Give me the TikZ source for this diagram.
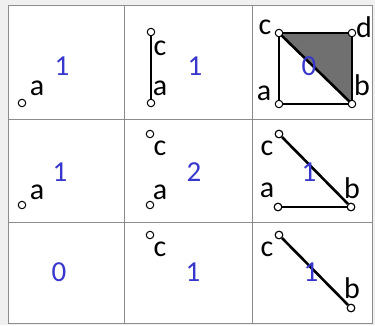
\documentclass[tikz,border=0pt]{standalone}
\usepackage{fontspec}
\setmainfont{Carlito}
\definecolor{numblue}{RGB}{55,55,205}
\definecolor{gridgray}{RGB}{140,140,140}
\definecolor{bggray}{RGB}{240,240,240}
\definecolor{trishade}{RGB}{112,112,112}
\begin{document}
\begin{tikzpicture}[x=1pt,y=-1pt,
  vtx/.style={circle,draw=black,fill=white,line width=1pt,inner sep=0pt,minimum size=7.5pt},
  lbl/.style={inner sep=0pt,font=\fontsize{30}{30}\selectfont},
  num/.style={inner sep=0pt,text=numblue,font=\fontsize{29}{29}\selectfont},
  edge/.style={line width=2.6pt,black},
  gridline/.style={draw=gridgray,line width=1pt}]
\fill[bggray] (0,0) rectangle (375,325);
\useasboundingbox (0,0) rectangle (375,325);
\fill[white] (8,5) rectangle (372,323);
% grid
\draw[gridline] (8,5) rectangle (372,323);
\draw[gridline] (124,5) -- (124,323);
\draw[gridline] (252,5) -- (252,323);
\draw[gridline] (8,119) -- (372,119);
\draw[gridline] (8,222) -- (372,222);

% ---------- Row 1 ----------
\node[vtx] (r1a) at (22,103) {};
\node[lbl] at (37,88) {a};
\node[num] at (62,66) {1};

\node[vtx] (r2c) at (151,32) {};
\node[vtx] (r2a) at (151,103) {};
\draw[edge] (r2c) -- (r2a);
\node[lbl] at (160,48) {c};
\node[lbl] at (160,88) {a};
\node[num] at (195,66) {1};

\coordinate (q3c) at (279,33);
\coordinate (q3d) at (352,33);
\coordinate (q3a) at (279,104);
\coordinate (q3b) at (352,104);
\fill[trishade] (q3c) -- (q3d) -- (q3b) -- cycle;
\draw[edge] (q3c) -- (q3d) -- (q3b) -- (q3a) -- cycle;
\draw[edge] (q3c) -- (q3b);
\node[vtx] at (q3c) {};
\node[vtx] at (q3d) {};
\node[vtx] at (q3a) {};
\node[vtx] at (q3b) {};
\node[lbl] at (265,27) {c};
\node[lbl] at (364,27) {d};
\node[lbl] at (264,93) {a};
\node[lbl] at (362,85) {b};
\node[num] at (309,66) {0};

% ---------- Row 2 ----------
\node[vtx] (s1a) at (22,205) {};
\node[lbl] at (37,192) {a};
\node[num] at (60,172) {1};

\node[vtx] (s2c) at (150,134) {};
\node[vtx] (s2a) at (150,205) {};
\node[lbl] at (160,148) {c};
\node[lbl] at (160,192) {a};
\node[num] at (194,172) {2};

\node[vtx] (s3c) at (279,134) {};
\node[vtx] (s3a) at (278,207) {};
\node[vtx] (s3b) at (351,207) {};
\draw[edge] (s3c) -- (s3b);
\draw[edge] (s3a) -- (s3b);
\node[vtx] at (s3c) {};
\node[vtx] at (s3a) {};
\node[vtx] at (s3b) {};
\node[lbl] at (267,148) {c};
\node[lbl] at (267,190) {a};
\node[lbl] at (352,188) {b};
\node[num] at (309,172) {1};

% ---------- Row 3 ----------
\node[num] at (59,272) {0};

\node[vtx] (t2c) at (150,235) {};
\node[lbl] at (160,249) {c};
\node[num] at (193,272) {1};

\node[vtx] (t3c) at (279,235) {};
\node[vtx] (t3b) at (351,308) {};
\draw[edge] (t3c) -- (t3b);
\node[vtx] at (t3c) {};
\node[vtx] at (t3b) {};
\node[lbl] at (267,249) {c};
\node[lbl] at (352,288) {b};
\node[num] at (311,272) {1};
\end{tikzpicture}
\end{document}
